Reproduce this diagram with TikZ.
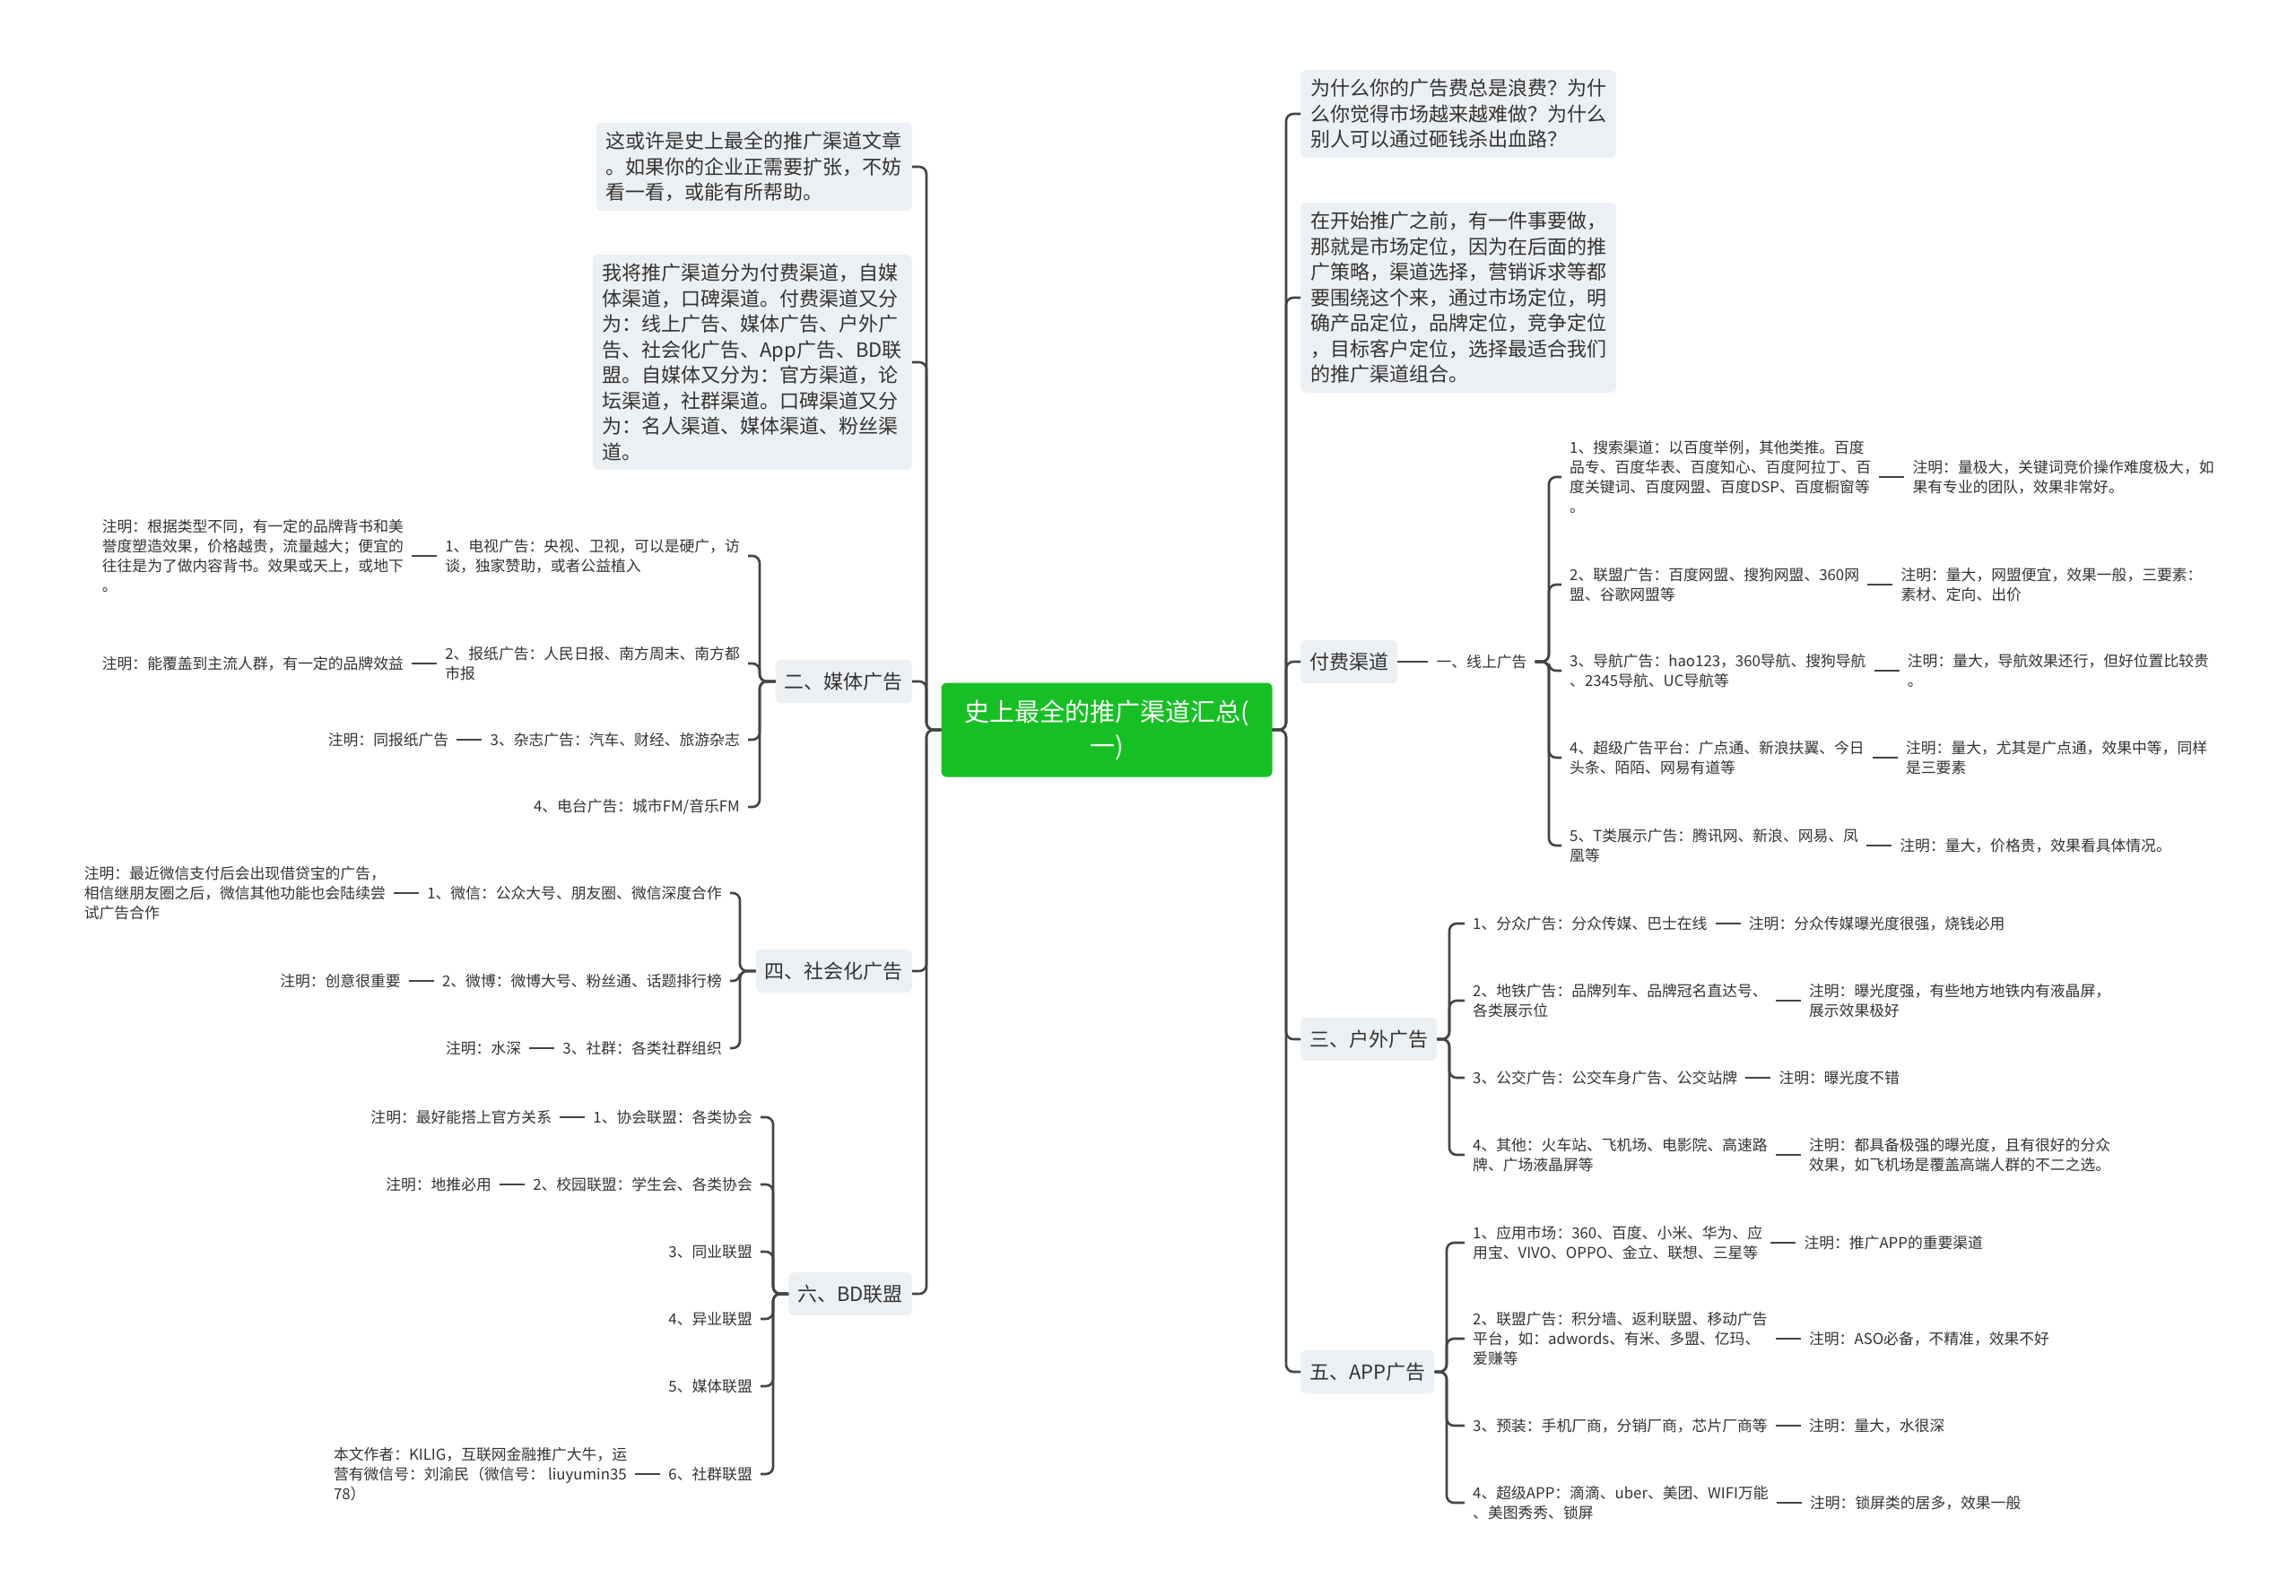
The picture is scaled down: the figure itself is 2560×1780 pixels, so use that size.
\documentclass[tikz,border=0pt]{standalone}
\usepackage{fontspec}
\setmainfont{Noto Sans CJK SC}
\usetikzlibrary{positioning}
\definecolor{colRoot}{RGB}{22,192,36}
\definecolor{colBox}{RGB}{237,240,243}
\definecolor{colLine}{RGB}{68,68,68}
\definecolor{colText}{RGB}{51,51,51}

\begin{document}
\begin{tikzpicture}[
            x=1pt, y=-1pt,
            node distance=28pt,
            rootbox/.style={rectangle, rounded corners=6pt, fill=colRoot, text=white, minimum width=369pt, minimum height=105pt, align=center, font=\fontsize{28}{38}\selectfont},
            topic/.style={rectangle, rounded corners=6pt, fill=colBox, text=colText, minimum height=48pt, inner xsep=10pt, font=\fontsize{22}{28}\selectfont},
            memo/.style={rectangle, rounded corners=6pt, fill=colBox, text=colText, align=left, inner xsep=11pt, inner ysep=10pt, font=\fontsize{22}{28.5}\selectfont},
            leaf/.style={text=colText, align=left, inner xsep=9pt, inner ysep=2pt, font=\fontsize{16.8}{22}\selectfont},
            conn/.style={draw=colLine, line width=2.6pt, rounded corners=8pt}
        ]

        \fill[white, use as bounding box] (0,0) rectangle (2560,1780);

        %% ── CENTRE ──────────────────────────
        \node[rootbox] (title) at (1234,814) {史上最全的推广渠道汇总(\\一)};
        \coordinate (rtrunk) at (1434,0);
        \coordinate (ltrunk) at (1033,0);

        %% ── DROITE : textes d'intro ─────────────────
        \node[memo, anchor=west] (why) at (1450,127) {为什么你的广告费总是浪费？为什\\么你觉得市场越来越难做？为什么\\别人可以通过砸钱杀出血路？};
        \node[memo, anchor=west] (before) at (1450,332) {在开始推广之前，有一件事要做，\\那就是市场定位，因为在后面的推\\广策略，渠道选择，营销诉求等都\\要围绕这个来，通过市场定位，明\\确产品定位，品牌定位，竞争定位\\，目标客户定位，选择最适合我们\\的推广渠道组合。};

        %% ── DROITE :付费渠道 / 线上广告 ─────────────
        \node[topic, anchor=west] (paid) at (1450,738) {付费渠道};
        \node[leaf, right=34pt of paid] (online) {一、线上广告};
        \coordinate (otrunk) at (1727,0);

        \node[leaf, anchor=west] (s1) at (1741,532) {1、搜索渠道：以百度举例，其他类推。百度\\品专、百度华表、百度知心、百度阿拉丁、百\\度关键词、百度网盟、百度DSP、百度橱窗等\\。};
        \node[leaf, right=of s1] (s1n) {注明：量极大，关键词竞价操作难度极大，如\\果有专业的团队，效果非常好。};
        \node[leaf, anchor=west] (s2) at (1741,652) {2、联盟广告：百度网盟、搜狗网盟、360网\\盟、谷歌网盟等};
        \node[leaf, right=of s2] (s2n) {注明：量大，网盟便宜，效果一般，三要素：\\素材、定向、出价};
        \node[leaf, anchor=west] (s3) at (1741,748) {3、导航广告：hao123，360导航、搜狗导航\\、2345导航、UC导航等};
        \node[leaf, right=of s3] (s3n) {注明：量大，导航效果还行，但好位置比较贵\\。};
        \node[leaf, anchor=west] (s4) at (1741,845) {4、超级广告平台：广点通、新浪扶翼、今日\\头条、陌陌、网易有道等};
        \node[leaf, right=of s4] (s4n) {注明：量大，尤其是广点通，效果中等，同样\\是三要素};
        \node[leaf, anchor=west] (s5) at (1741,943) {5、T类展示广告：腾讯网、新浪、网易、凤\\凰等};
        \node[leaf, right=of s5] (s5n) {注明：量大，价格贵，效果看具体情况。};

        %% ── DROITE : 户外广告 ─────────────
        \node[topic, anchor=west] (outdoor) at (1450,1159) {三、户外广告};
        \coordinate (dtrunk) at (1616,0);

        \node[leaf, anchor=west] (o1) at (1633,1030) {1、分众广告：分众传媒、巴士在线};
        \node[leaf, right=of o1] (o1n) {注明：分众传媒曝光度很强，烧钱必用};
        \node[leaf, anchor=west] (o2) at (1633,1116) {2、地铁广告：品牌列车、品牌冠名直达号、\\各类展示位};
        \node[leaf, right=of o2] (o2n) {注明：曝光度强，有些地方地铁内有液晶屏，\\展示效果极好};
        \node[leaf, anchor=west] (o3) at (1633,1202) {3、公交广告：公交车身广告、公交站牌};
        \node[leaf, right=of o3] (o3n) {注明：曝光度不错};
        \node[leaf, anchor=west] (o4) at (1633,1288) {4、其他：火车站、飞机场、电影院、高速路\\牌、广场液晶屏等};
        \node[leaf, right=of o4] (o4n) {注明：都具备极强的曝光度，且有很好的分众\\效果，如飞机场是覆盖高端人群的不二之选。};

        %% ── DROITE : APP广告 ─────────────
        \node[topic, anchor=west] (app) at (1450,1530) {五、APP广告};
        \coordinate (ptrunk) at (1613,0);

        \node[leaf, anchor=west] (a1) at (1633,1386) {1、应用市场：360、百度、小米、华为、应\\用宝、VIVO、OPPO、金立、联想、三星等};
        \node[leaf, right=of a1] (a1n) {注明：推广APP的重要渠道};
        \node[leaf, anchor=west] (a2) at (1633,1493) {2、联盟广告：积分墙、返利联盟、移动广告\\平台，如：adwords、有米、多盟、亿玛、\\爱赚等};
        \node[leaf, right=of a2] (a2n) {注明：ASO必备，不精准，效果不好};
        \node[leaf, anchor=west] (a3) at (1633,1590) {3、预装：手机厂商，分销厂商，芯片厂商等};
        \node[leaf, right=of a3] (a3n) {注明：量大，水很深};
        \node[leaf, anchor=west] (a4) at (1633,1676) {4、超级APP：滴滴、uber、美团、WIFI万能\\、美图秀秀、锁屏};
        \node[leaf, right=of a4] (a4n) {注明：锁屏类的居多，效果一般};

        %% ── GAUCHE : textes d'intro ─────────────────
        \node[memo, anchor=east] (intro) at (1017,186) {这或许是史上最全的推广渠道文章\\。如果你的企业正需要扩张，不妨\\看一看，或能有所帮助。};
        \node[memo, anchor=east] (plan) at (1017,404) {我将推广渠道分为付费渠道，自媒\\体渠道，口碑渠道。付费渠道又分\\为：线上广告、媒体广告、户外广\\告、社会化广告、App广告、BD联\\盟。自媒体又分为：官方渠道，论\\坛渠道，社群渠道。口碑渠道又分\\为：名人渠道、媒体渠道、粉丝渠\\道。};

        %% ── GAUCHE : 媒体广告 ─────────────
        \node[topic, anchor=east] (media) at (1017,760) {二、媒体广告};
        \coordinate (mtrunk) at (847,0);

        \node[leaf, anchor=east] (m1) at (834,620) {1、电视广告：央视、卫视，可以是硬广，访\\谈，独家赞助，或者公益植入};
        \node[leaf, left=of m1] (m1n) {注明：根据类型不同，有一定的品牌背书和美\\誉度塑造效果，价格越贵，流量越大；便宜的\\往往是为了做内容背书。效果或天上，或地下\\。};
        \node[leaf, anchor=east] (m2) at (834,740) {2、报纸广告：人民日报、南方周末、南方都\\市报};
        \node[leaf, left=of m2] (m2n) {注明：能覆盖到主流人群，有一定的品牌效益};
        \node[leaf, anchor=east] (m3) at (834,825) {3、杂志广告：汽车、财经、旅游杂志};
        \node[leaf, left=of m3] (m3n) {注明：同报纸广告};
        \node[leaf, anchor=east] (m4) at (834,900) {4、电台广告：城市FM/音乐FM};

        %% ── GAUCHE : 社会化广告 ─────────────
        \node[topic, anchor=east] (social) at (1017,1083) {四、社会化广告};
        \coordinate (strunk) at (825,0);

        \node[leaf, anchor=east] (w1) at (814,996) {1、微信：公众大号、朋友圈、微信深度合作};
        \node[leaf, left=of w1] (w1n) {注明：最近微信支付后会出现借贷宝的广告，\\相信继朋友圈之后，微信其他功能也会陆续尝\\试广告合作};
        \node[leaf, anchor=east] (w2) at (814,1094) {2、微博：微博大号、粉丝通、话题排行榜};
        \node[leaf, left=of w2] (w2n) {注明：创意很重要};
        \node[leaf, anchor=east] (w3) at (814,1169) {3、社群：各类社群组织};
        \node[leaf, left=of w3] (w3n) {注明：水深};

        %% ── GAUCHE : BD联盟 ─────────────
        \node[topic, anchor=east] (bd) at (1017,1443) {六、BD联盟};
        \coordinate (btrunk) at (862,0);

        \node[leaf, anchor=east] (b1) at (848,1246) {1、协会联盟：各类协会};
        \node[leaf, left=of b1] (b1n) {注明：最好能搭上官方关系};
        \node[leaf, anchor=east] (b2) at (848,1321) {2、校园联盟：学生会、各类协会};
        \node[leaf, left=of b2] (b2n) {注明：地推必用};
        \node[leaf, anchor=east] (b3) at (848,1396) {3、同业联盟};
        \node[leaf, anchor=east] (b4) at (848,1471) {4、异业联盟};
        \node[leaf, anchor=east] (b5) at (848,1546) {5、媒体联盟};
        \node[leaf, anchor=east] (b6) at (848,1644) {6、社群联盟};
        \node[leaf, left=of b6] (b6n) {本文作者：KILIG，互联网金融推广大牛，运\\营有微信号：刘渝民（微信号： liuyumin35\\78）};

        %% ── BRANCHES DU CENTRE ────────────────────────────────────
        \draw[conn] (title.east) -- (rtrunk |- title.east) |- (why.west);
        \draw[conn] (title.east) -- (rtrunk |- title.east) |- (before.west);
        \draw[conn] (title.east) -- (rtrunk |- title.east) |- (paid.west);
        \draw[conn] (title.east) -- (rtrunk |- title.east) |- (outdoor.west);
        \draw[conn] (title.east) -- (rtrunk |- title.east) |- (app.west);

        \draw[conn] (title.west) -- (ltrunk |- title.west) |- (intro.east);
        \draw[conn] (title.west) -- (ltrunk |- title.west) |- (plan.east);
        \draw[conn] (title.west) -- (ltrunk |- title.west) |- (media.east);
        \draw[conn] (title.west) -- (ltrunk |- title.west) |- (social.east);
        \draw[conn] (title.west) -- (ltrunk |- title.west) |- (bd.east);

        % 付费渠道
        \draw[conn] (paid) -- (online);
        \draw[conn] (online.east) -- (otrunk |- online.east) |- (s1.west);
        \draw[conn] (online.east) -- (otrunk |- online.east) |- (s2.west);
        \draw[conn] (online.east) -- (otrunk |- online.east) |- (s3.west);
        \draw[conn] (online.east) -- (otrunk |- online.east) |- (s4.west);
        \draw[conn] (online.east) -- (otrunk |- online.east) |- (s5.west);
        \draw[conn] (s1) -- (s1n);
        \draw[conn] (s2) -- (s2n);
        \draw[conn] (s3) -- (s3n);
        \draw[conn] (s4) -- (s4n);
        \draw[conn] (s5) -- (s5n);

        % 户外广告
        \draw[conn] (outdoor.east) -- (dtrunk |- outdoor.east) |- (o1.west);
        \draw[conn] (outdoor.east) -- (dtrunk |- outdoor.east) |- (o2.west);
        \draw[conn] (outdoor.east) -- (dtrunk |- outdoor.east) |- (o3.west);
        \draw[conn] (outdoor.east) -- (dtrunk |- outdoor.east) |- (o4.west);
        \draw[conn] (o1) -- (o1n);
        \draw[conn] (o2) -- (o2n);
        \draw[conn] (o3) -- (o3n);
        \draw[conn] (o4) -- (o4n);

        % APP广告
        \draw[conn] (app.east) -- (ptrunk |- app.east) |- (a1.west);
        \draw[conn] (app.east) -- (ptrunk |- app.east) |- (a2.west);
        \draw[conn] (app.east) -- (ptrunk |- app.east) |- (a3.west);
        \draw[conn] (app.east) -- (ptrunk |- app.east) |- (a4.west);
        \draw[conn] (a1) -- (a1n);
        \draw[conn] (a2) -- (a2n);
        \draw[conn] (a3) -- (a3n);
        \draw[conn] (a4) -- (a4n);

        % 媒体广告
        \draw[conn] (media.west) -- (mtrunk |- media.west) |- (m1.east);
        \draw[conn] (media.west) -- (mtrunk |- media.west) |- (m2.east);
        \draw[conn] (media.west) -- (mtrunk |- media.west) |- (m3.east);
        \draw[conn] (media.west) -- (mtrunk |- media.west) |- (m4.east);
        \draw[conn] (m1) -- (m1n);
        \draw[conn] (m2) -- (m2n);
        \draw[conn] (m3) -- (m3n);

        % 社会化广告
        \draw[conn] (social.west) -- (strunk |- social.west) |- (w1.east);
        \draw[conn] (social.west) -- (strunk |- social.west) |- (w2.east);
        \draw[conn] (social.west) -- (strunk |- social.west) |- (w3.east);
        \draw[conn] (w1) -- (w1n);
        \draw[conn] (w2) -- (w2n);
        \draw[conn] (w3) -- (w3n);

        % BD联盟
        \draw[conn] (bd.west) -- (btrunk |- bd.west) |- (b1.east);
        \draw[conn] (bd.west) -- (btrunk |- bd.west) |- (b2.east);
        \draw[conn] (bd.west) -- (btrunk |- bd.west) |- (b3.east);
        \draw[conn] (bd.west) -- (btrunk |- bd.west) |- (b4.east);
        \draw[conn] (bd.west) -- (btrunk |- bd.west) |- (b5.east);
        \draw[conn] (bd.west) -- (btrunk |- bd.west) |- (b6.east);
        \draw[conn] (b1) -- (b1n);
        \draw[conn] (b2) -- (b2n);
        \draw[conn] (b6) -- (b6n);

\end{tikzpicture}
\end{document}
